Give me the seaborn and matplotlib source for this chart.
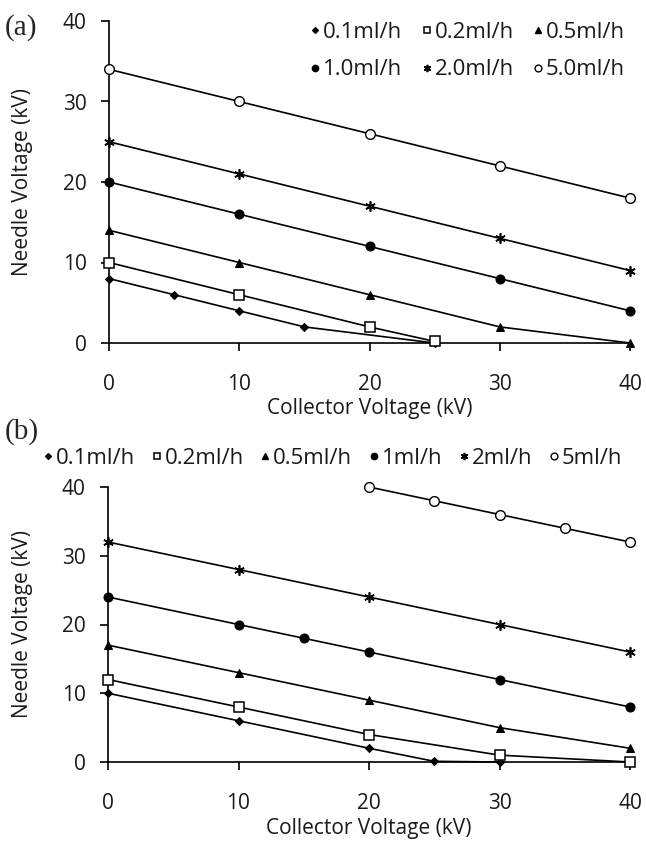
import matplotlib
matplotlib.use("Agg")
import matplotlib.pyplot as plt
import seaborn as sns
import pandas as pd
from matplotlib.lines import Line2D

# ---------------- data ----------------
# panel (a)
a_labels = ["0.1ml/h", "0.2ml/h", "0.5ml/h", "1.0ml/h", "2.0ml/h", "5.0ml/h"]
a_x_01 = [0, 5, 10, 15, 25]
a_y_01 = [8, 6, 4, 2, 0]
a_x_02 = [0, 10, 20, 25]
a_y_02 = [10, 6, 2, 0.2]
a_x_05 = [0, 10, 20, 30, 40]
a_y_05 = [14, 10, 6, 2, 0]
a_x_10 = [0, 10, 20, 30, 40]
a_y_10 = [20, 16, 12, 8, 4]
a_x_20 = [0, 10, 20, 30, 40]
a_y_20 = [25, 21, 17, 13, 9]
a_x_50 = [0, 10, 20, 30, 40]
a_y_50 = [34, 30, 26, 22, 18]

# panel (b)
b_labels = ["0.1ml/h", "0.2ml/h", "0.5ml/h", "1ml/h", "2ml/h", "5ml/h"]
b_x_01 = [0, 10, 20, 25, 30]
b_y_01 = [10, 6, 2, 0.1, 0]
b_x_02 = [0, 10, 20, 30, 40]
b_y_02 = [12, 8, 4, 1, 0]
b_x_05 = [0, 10, 20, 30, 40]
b_y_05 = [17, 13, 9, 5, 2]
b_x_10 = [0, 10, 15, 20, 30, 40]
b_y_10 = [24, 20, 18, 16, 12, 8]
b_x_20 = [0, 10, 20, 30, 40]
b_y_20 = [32, 28, 24, 20, 16]
b_x_50 = [20, 25, 30, 35, 40]
b_y_50 = [40, 38, 36, 34, 32]

x_ticks = [0, 10, 20, 30, 40]
y_ticks = [0, 10, 20, 30, 40]

# ---------------- style ----------------
sns.set_style("white")
plt.rcParams['font.family'] = ['Open Sans', 'DejaVu Sans']

marker_styles = [
    dict(marker='D', ms=4.2, mfc='black', mec='black'),
    dict(marker='s', ms=7, mfc='white', mec='black', mew=1.1),
    dict(marker='^', ms=5.5, mfc='black', mec='black'),
    dict(marker='o', ms=6.5, mfc='black', mec='black'),
    dict(marker=(6, 2, 0), ms=7.5, mfc='black', mec='black', mew=1.2),
    dict(marker='o', ms=7, mfc='white', mec='black', mew=1.0),
]

TXT = '#1a1a1a'
fig = plt.figure(figsize=(6.46, 8.43), dpi=100)
W, H = 646, 843

def px_axes(l, t, r, b):
    return fig.add_axes([l / W, 1 - b / H, (r - l) / W, (b - t) / H])

ax_a = px_axes(109, 21, 630, 343)
ax_b = px_axes(108, 487, 630, 762)

a_series = [(a_x_01, a_y_01), (a_x_02, a_y_02), (a_x_05, a_y_05),
            (a_x_10, a_y_10), (a_x_20, a_y_20), (a_x_50, a_y_50)]
b_series = [(b_x_01, b_y_01), (b_x_02, b_y_02), (b_x_05, b_y_05),
            (b_x_10, b_y_10), (b_x_20, b_y_20), (b_x_50, b_y_50)]

def draw(ax, series, labels):
    for (xs, ys), lab, ms in zip(series, labels, marker_styles):
        df = pd.DataFrame({"x": xs, "y": ys})
        sns.lineplot(data=df, x="x", y="y", ax=ax, color='black', lw=1.2,
                     label=lab, legend=False, clip_on=False, zorder=3,
                     **{k: v for k, v in ms.items()})
    ax.set_xlim(0, 40)
    ax.set_ylim(0, 40)
    ax.set_xticks(x_ticks)
    ax.set_yticks(y_ticks)
    for s in ['top', 'right']:
        ax.spines[s].set_visible(False)
    for s in ['left', 'bottom']:
        ax.spines[s].set_color('black')
        ax.spines[s].set_linewidth(1.2)
        ax.spines[s].set_zorder(2)
    ax.tick_params(axis='both', direction='out', length=6, width=1.2,
                   color='black', labelsize=15, labelcolor=TXT)
    ax.tick_params(axis='x', pad=16, bottom=True)
    ax.tick_params(axis='y', pad=10, left=True)
    ax.set_xlabel("Collector Voltage (kV)", fontsize=15, color=TXT)
    ax.set_ylabel("Needle Voltage (kV)", fontsize=15, color=TXT)
    ax.patch.set_alpha(0)

draw(ax_a, a_series, a_labels)
draw(ax_b, b_series, b_labels)

ax_a.xaxis.set_label_coords(0.5, (343 - 398) / (343 - 21))
ax_a.yaxis.set_label_coords((33 - 109) / (630 - 109), 0.5)
ax_b.xaxis.set_label_coords(0.5, (762 - 818) / (762 - 487))
ax_b.yaxis.set_label_coords((33 - 108) / (630 - 108), 0.5)

def handles(labels):
    hs = []
    for lab, ms in zip(labels, marker_styles):
        d = dict(ms)
        d['ms'] = d['ms'] * 0.7
        hs.append(Line2D([], [], color='black', lw=0, label=lab, **d))
    return hs

ha = handles(a_labels)
ha_rowmajor = [ha[0], ha[3], ha[1], ha[4], ha[2], ha[5]]
fig.legend(handles=ha_rowmajor, loc='center', ncol=3,
           bbox_to_anchor=(468 / W, 1 - 51 / H), frameon=False, fontsize=16,
           handlelength=0.4, handletextpad=0.15, columnspacing=0.9,
           labelspacing=0.75, labelcolor=TXT, borderpad=0)
fig.legend(handles=handles(b_labels), loc='center', ncol=6,
           bbox_to_anchor=(333 / W, 1 - 458 / H), frameon=False, fontsize=16,
           handlelength=0.4, handletextpad=0.15, columnspacing=0.77,
           labelcolor=TXT, borderpad=0)

fig.text(5 / W, 1 - 28 / H, "(a)", family='Liberation Serif', fontsize=21,
         va='center', ha='left')
fig.text(5 / W, 1 - 432 / H, "(b)", family='Liberation Serif', fontsize=21,
         va='center', ha='left')

fig.savefig("out.png", dpi=100)
